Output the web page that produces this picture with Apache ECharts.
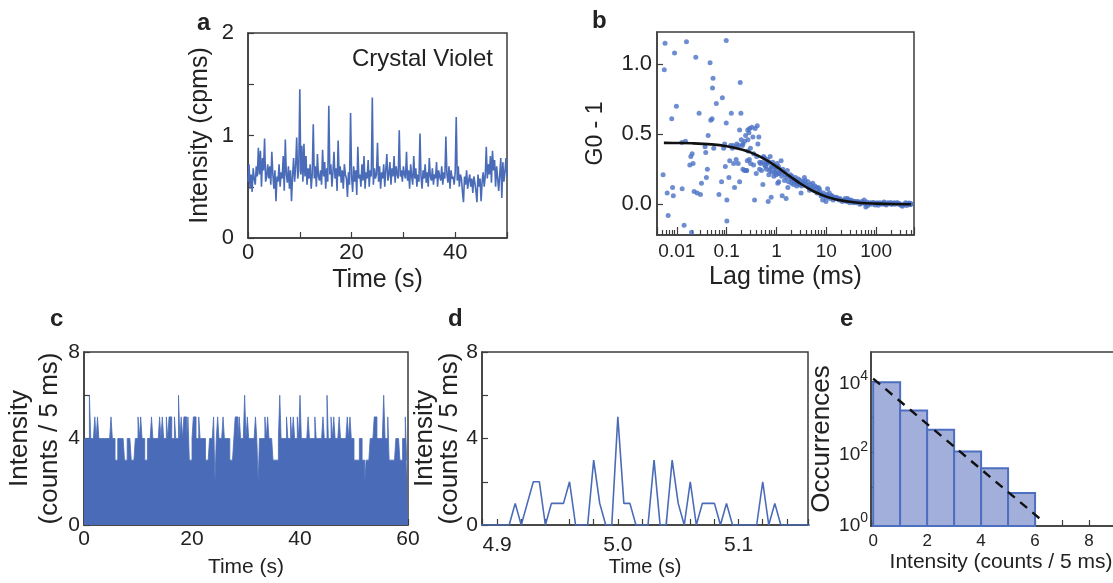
<!DOCTYPE html>
<html><head><meta charset="utf-8">
<script src="https://cdn.jsdelivr.net/npm/echarts@6/dist/echarts.min.js"></script>
<style>html,body{margin:0;padding:0;background:#fff}#c{width:1113px;height:583px}</style>
</head><body><div id="c"></div>
<script>
// ---------- Panel a: intensity trace (0.2 s samples) ----------
const A_DT = 0.2;
const A_INTENSITY = [
0.55,0.72,0.48,0.62,0.45,0.68,0.58,0.52,0.70,0.60,
0.88,0.62,0.85,0.50,0.78,0.66,0.97,0.55,0.60,0.72,
0.58,0.70,0.52,0.84,0.62,0.48,0.66,0.36,0.60,0.55,
0.72,0.50,0.64,0.58,0.80,0.46,0.96,0.62,0.54,0.70,
0.48,0.66,0.36,0.60,0.78,0.55,0.70,0.98,0.58,0.66,
1.45,0.62,0.90,0.55,0.92,0.60,0.80,0.52,0.68,0.58,
0.72,0.48,0.62,1.11,0.58,0.70,0.50,0.82,0.60,0.56,
0.66,0.52,0.86,0.60,0.74,0.48,0.68,0.55,1.29,0.62,
0.72,0.50,0.64,0.84,0.58,0.68,0.46,0.95,0.60,0.70,
0.54,0.66,0.48,0.72,0.62,0.58,0.40,0.64,0.52,1.22,
0.60,0.45,0.70,0.55,0.66,0.42,0.89,0.58,0.62,0.50,
0.72,0.56,0.80,0.48,0.64,0.58,0.76,0.50,0.66,0.60,
1.37,0.52,0.68,0.58,0.62,0.93,0.55,0.70,0.48,0.64,
0.58,0.72,0.50,0.66,0.82,0.56,0.62,0.74,0.52,0.68,
0.60,0.80,0.54,0.70,0.62,0.58,1.05,0.60,0.66,0.55,
0.70,0.62,0.58,0.84,0.56,0.66,0.48,0.72,0.60,0.52,
0.80,0.58,0.68,0.50,0.62,0.55,1.02,0.60,0.48,0.66,
0.58,0.72,0.54,0.64,0.50,0.78,0.60,0.56,0.68,0.52,
0.62,0.58,0.74,0.50,0.66,0.60,0.56,0.70,0.52,0.64,
0.58,0.99,0.62,0.54,0.70,0.48,0.66,0.58,0.60,0.52,
0.64,1.18,0.56,0.70,0.50,0.62,0.58,0.45,0.35,0.60,
0.52,0.66,0.48,0.56,0.62,0.50,0.58,0.44,0.60,0.54,
0.46,0.35,0.62,0.50,0.58,0.36,0.55,0.64,0.50,0.60,
0.89,0.58,0.72,0.62,0.80,0.54,0.85,0.66,0.76,0.50,
0.70,0.58,0.46,0.62,0.78,0.39,0.74,0.55,0.64,0.78,
0.60];

// ---------- Panel b: autocorrelation points [lag ms, G0-1] ----------
const B_POINTS = [
[0.0056,0.96],[0.0058,1.15],[0.0053,0.21],[0.0064,0.08],[0.0067,-0.08],[0.0079,0.61],[0.0082,0.12],[0.0085,0.06],[0.009,1.08],[0.0098,0.70],
[0.0126,0.44],[0.0128,0.11],[0.014,-0.15],[0.0149,0.45],[0.0156,1.16],[0.0182,0.28],[0.0191,0.34],[0.0203,0.36],[0.0212,0.29],[0.0197,-0.2],
[0.0222,0.09],[0.024,1.05],[0.0256,0.08],[0.028,0.65],[0.0298,0.07],[0.0312,0.15],[0.0369,0.41],[0.038,0.37],[0.0392,0.19],[0.041,0.25],
[0.0425,0.49],[0.0465,1.01],[0.048,0.60],[0.051,0.61],[0.0533,0.90],[0.052,0.83],[0.055,0.40],[0.062,0.72],[0.070,0.07],[0.079,0.16],
[0.082,0.76],[0.087,0.40],[0.091,0.43],[0.094,0.27],[0.101,0.03],[0.098,1.17],[0.101,-0.12],[0.098,0.58],[0.111,0.19],[0.115,0.31],
[0.124,0.65],[0.134,0.42],[0.144,0.12],[0.155,0.32],[0.170,0.29],[0.182,0.53],[0.187,0.87],[0.193,0.65],[0.182,0.16],[0.196,0.46],
[0.212,0.43],[0.228,0.24],[0.253,0.24],[0.265,0.53],[0.285,0.32],
[0.138,0.29],[0.156,0.41],[0.206,0.42],[0.212,0.25],[0.229,0.45],[0.24,0.49],[0.247,0.24],[0.259,0.31],[0.267,0.46],[0.28,0.51],
[0.288,0.54],[0.302,0.29],[0.321,0.55],[0.336,0.48],[0.347,0.28],[0.363,0.03],[0.374,0.54],[0.392,0.22],[0.411,0.56],[0.423,0.43],
[0.443,0.48],[0.457,0.25],[0.479,0.29],[0.501,0.24],[0.533,0.14],[0.55,0.34],[0.575,0.33],[0.603,0.27],[0.622,0.30],[0.651,0.32],
[0.681,0.02],[0.702,0.21],[0.724,0.24],[0.747,0.34],[0.782,0.05],[0.819,0.27],[0.845,0.30],[0.884,0.20],[0.912,0.23],[0.955,0.27],
[0.985,0.24],[1.03,0.29],[1.08,0.22],[1.11,0.16],
[0.12,0.42],[0.13,0.40],[0.16,0.43],[0.175,0.42],[0.30,0.40],[0.35,0.36],[0.40,0.34],[0.27,0.38],[0.46,0.30],
[0.52,0.30],[0.58,0.28],[0.63,0.25],[0.66,0.29],[0.72,0.30],[0.77,0.26],[0.80,0.23],[0.93,0.26],
[0.87,0.28],[0.985,0.21],[1.06,0.15],[1.24,0.31],[1.30,0.06],[1.34,0.25],[1.45,0.17],[1.56,0.04],[1.69,0.12],[1.82,0.20],
[1.97,0.18],[2.12,0.18],[2.29,0.17],[2.47,0.16],[2.67,0.15],[2.88,0.14],[3.11,0.08],[3.36,0.16],[3.63,0.19],[3.92,0.14],
[4.43,0.12],[4.94,0.11],[5.33,0.15],[6.21,0.12],[6.71,0.09],[7.24,0.11],[7.82,0.06],[8.45,0.03],[9.85,0.02],[10.6,0.11],
[11.5,0.08],[12.4,0.06],[14.5,0.05],[16.9,0.04],[19.7,0.03],[22.9,0.03],[26.7,0.04],[31.1,0.03],[36.3,0.02],[42.3,0.02],
[49.3,0.005],[57.5,0.03],[62.1,-0.02],[72.4,0.005],[91.2,0.01],[115,0.005],[145,0.015],[182,0.005],[229,0.01],[288,0.0],
[336,-0.014],[423,0.005],[494,0.005],
[1.1,0.27],[1.15,0.22],[1.2,0.24],[1.28,0.20],[1.38,0.23],[1.5,0.21],[1.6,0.19],[1.65,0.24],[1.75,0.16],[1.9,0.21],
[2.0,0.15],[2.05,0.20],[2.2,0.14],[2.4,0.19],[2.55,0.13],[2.75,0.18],[3.0,0.17],[3.2,0.13],
[3.5,0.15],[3.8,0.17],[4.1,0.13],[4.3,0.16],[4.6,0.10],[4.8,0.14],[5.1,0.12],[5.6,0.10],[5.9,0.13],[6.5,0.08],
[6.9,0.12],[7.5,0.09],[8.0,0.07],[8.8,0.08],[9.3,0.06],[10.0,0.05],
[10.3,0.07],[11,0.05],[12,0.04],[13,0.06],[13.7,0.03],[15.2,0.04],[16,0.05],[18,0.03],[18.8,0.04],[21,0.02],
[24,0.04],[25.5,0.02],[28,0.03],[29.5,0.01],[33,0.025],[35,0.01],[38,0.02],[40,0.01],[45,0.015],[47,0.0],
[52,0.02],[55,0.01],[60,0.005],[65,0.015],[68,-0.01],[75,0.01],[80,0.0],[85,0.012],[95,-0.005],[100,0.005],
[105,0.01],[110,-0.008],[120,0.01],[130,0.0],[138,0.008],[152,0.0],[160,-0.005],[170,0.01],[195,0.012],[205,-0.003],
[215,0.005],[240,0.0],[255,0.008],[270,0.01],[300,0.004],[315,-0.008],[350,-0.005],[370,0.002],[390,0.01],[410,-0.01],
[440,0.0],[460,0.008],[480,-0.004],[500,0.0]
];
const B_FIT_LAG = [0.0055,0.01,0.02,0.05,0.1,0.2,0.3,0.5,0.7,1,1.5,2,3,5,7,10,15,20,30,50,100,200,500];
const B_FIT_G   = [0.438,0.437,0.435,0.427,0.414,0.391,0.370,0.335,0.305,0.268,0.223,0.191,0.148,0.101,0.076,0.054,0.036,0.027,0.017,0.009,0.004,0.001,0.0];

// ---------- Panel c: counts per bin (max over 0.25 s bins) ----------
const C_BIN = 0.25;
const C_COUNTS = [
4,4,4,4,6,4,4,4,5,4, 5,4,4,4,4,4,4,4,4,4,
5,4,4,3,3,4,4,4,4,4, 3,3,4,4,4,3,3,3,4,4,
5,4,5,4,4,3,3,4,4,4, 5,4,4,4,4,4,5,4,5,4,
4,5,4,5,5,4,4,5,4,4, 6,4,5,4,5,5,4,5,3,3,
4,5,5,4,4,5,4,4,4,4, 3,3,3,4,4,4,5,2,4,5,
4,4,4,5,4,4,4,4,3,3, 3,4,5,5,4,5,4,4,4,6,
4,5,4,4,4,4,4,5,4,2, 4,4,4,4,5,4,5,4,4,4,
3,3,3,3,4,6,4,4,4,4, 5,4,4,5,4,5,4,4,5,4,
6,4,4,4,4,4,5,4,4,4, 4,5,4,4,4,4,4,5,4,4,
6,4,4,5,4,5,4,4,4,5, 4,4,4,4,4,5,4,5,4,4,
3,3,3,3,4,4,3,3,2,3, 3,3,4,4,4,5,5,4,4,4,
4,4,6,4,4,5,3,3,3,3, 3,4,4,4,3,3,4,4,5,3];

// ---------- Panel d: zoomed counts (5 ms steps from 4.885 s) ----------
const D_T0 = 4.885;
const D_DT = 0.005;
const D_COUNTS = [0,0,0,0,0,0,1,0,1,2,2,0,1,1,1,2,0,0,0,3,1,0,0,5,1,1,0,0,0,3,0,0,3,1,0,2,0,1,1,1,0,1,0,0,0,0,0,2,0,1,0,0,0,0,0,0];

// ---------- Panel e: histogram ----------
const E_BIN_LEFT = [0,1,2,3,4,5];
const E_BIN_WIDTH = 1;
const E_OCCURRENCES = [9500,1500,430,105,35,7];
const E_FIT_X = [0, 6.3];
const E_FIT_Y = [12000, 1.1];

// ---------- build ----------
const FONT = '"Liberation Sans", Arial, Helvetica, sans-serif';
const TXT = '#222';
const AX = '#3c3c3c';
const BLUE = '#4A6CB8';

function ax(o) {
  const base = {
    nameLocation: 'middle',
    axisLine: {show: true, onZero: false, lineStyle: {color: AX, width: 1.5}},
    axisTick: {show: true, inside: true, length: o.tickLen || 6, lineStyle: {color: AX, width: 1.2}},
    minorTick: {show: false},
    splitLine: {show: false},
    minorSplitLine: {show: false}
  };
  const lab = Object.assign({color: TXT, fontFamily: FONT, fontSize: 21}, o.label || {});
  const nts = Object.assign({color: TXT, fontFamily: FONT, fontSize: 24}, o.nameStyle || {});
  const minor = o.minor, minorLen = o.minorLen || 6;
  delete o.label; delete o.nameStyle; delete o.minor; delete o.minorLen; delete o.tickLen;
  const r = Object.assign(base, o);
  r.axisLabel = lab; r.nameTextStyle = nts;
  if (minor) { r.minorTick = {show: true, splitNumber: minor, length: minorLen, lineStyle: {color: AX, width: 1.2}}; }
  return r;
}

const gridBase = {show: true, borderColor: AX, borderWidth: 1.5, backgroundColor: 'transparent', containLabel: false, outerBoundsMode: 'none'};
const grids = [
  Object.assign({left: 248, top: 33, width: 259, height: 205}, gridBase),
  Object.assign({left: 657, top: 32, width: 257, height: 203}, gridBase),
  Object.assign({left: 84, top: 352, width: 324, height: 173}, gridBase),
  Object.assign({left: 482, top: 352, width: 326, height: 173}, gridBase),
  Object.assign({left: 871, top: 352, width: 272, height: 174}, gridBase)
];

const fmtNum = v => String(parseFloat(Number(v).toPrecision(6)));

const xAxes = [
  ax({gridIndex: 0, type: 'value', min: 0, max: 50, interval: 20, minor: 2, name: 'Time (s)', nameGap: 30,
      nameStyle: {fontSize: 25}, label: {fontSize: 22, margin: 4, showMaxLabel: false}}),
  ax({gridIndex: 1, type: 'log', logBase: 10, min: 0.004, max: 575, splitNumber: 5, minor: 9, tickLen: 8, minorLen: 5, name: 'Lag time (ms)', nameGap: 30,
      nameStyle: {fontSize: 25}, label: {fontSize: 19, margin: 7, showMinLabel: false, showMaxLabel: false, formatter: fmtNum}}),
  ax({gridIndex: 2, type: 'value', min: 0, max: 60, interval: 20, minor: 4, name: 'Time (s)', nameGap: 32,
      nameStyle: {fontSize: 21}, label: {fontSize: 21, margin: 4}}),
  ax({gridIndex: 3, type: 'value', min: 4.8875, max: 5.1575, splitNumber: 3, minor: 5, name: 'Time (s)', nameGap: 32,
      nameStyle: {fontSize: 20}, label: {fontSize: 21, margin: 10, showMinLabel: false, showMaxLabel: false, formatter: v => Number(v).toFixed(1)}}),
  ax({gridIndex: 4, type: 'value', min: -0.08, max: 10, splitNumber: 5, minor: 2, name: 'Intensity (counts / 5 ms)', nameGap: 26,
      nameStyle: {fontSize: 21, padding: [0, 12, 0, 0]}, label: {fontSize: 17, margin: 7, showMinLabel: false}})
];

const yAxes = [
  ax({gridIndex: 0, type: 'value', min: 0, max: 2, interval: 1, minor: 2, name: 'Intensity (cpms)', nameGap: 35,
      nameStyle: {fontSize: 25}, label: {fontSize: 22, margin: 14}}),
  ax({gridIndex: 1, type: 'value', min: -0.22, max: 1.23, splitNumber: 3, name: 'G0 - 1', nameGap: 50,
      nameStyle: {fontSize: 23}, label: {fontSize: 22, margin: 5, showMinLabel: false, showMaxLabel: false, formatter: v => Number(v).toFixed(1)}}),
  ax({gridIndex: 2, type: 'value', min: 0, max: 8, interval: 4, minor: 2, name: 'Intensity\n(counts / 5 ms)', nameGap: 12,
      nameStyle: {fontSize: 26, lineHeight: 30}, label: {fontSize: 21, margin: 4}}),
  ax({gridIndex: 3, type: 'value', min: 0, max: 8, interval: 4, minor: 2, name: 'Intensity\n(counts / 5 ms)', nameGap: 19,
      nameStyle: {fontSize: 26, lineHeight: 25}, label: {fontSize: 21, margin: 4}}),
  ax({gridIndex: 4, type: 'log', logBase: 10, min: 0.82, max: 68000, splitNumber: 5, name: 'Occurrences', nameGap: 33,
      nameStyle: {fontSize: 26},
      label: {margin: 3, showMinLabel: false, showMaxLabel: false,
        formatter: function (v) {
          const l = Math.log10(v), e = Math.round(l);
          if (Math.abs(l - e) > 1e-6 || e % 2 !== 0) return '';
          return '{b|10}{s|' + e + '}';
        },
        rich: {
          b: {fontSize: 19, fontFamily: FONT, color: TXT, lineHeight: 24, verticalAlign: 'bottom'},
          s: {fontSize: 14, fontFamily: FONT, color: TXT, lineHeight: 24, verticalAlign: 'top', padding: [0, 0, 9, 0]}
        }}})
];

const aData = A_INTENSITY.map((v, i) => [i * A_DT, v]);
const cData = C_COUNTS.map((v, i) => [i * C_BIN, v]);
cData.push([C_COUNTS.length * C_BIN, C_COUNTS[C_COUNTS.length - 1]]);
const dData = D_COUNTS.map((v, i) => [D_T0 + i * D_DT, v]);
const bFit = B_FIT_LAG.map((t, i) => [t, B_FIT_G[i]]);
const eData = E_BIN_LEFT.map((x, i) => [x, E_OCCURRENCES[i]]);
const eFit = E_FIT_X.map((x, i) => [x, E_FIT_Y[i]]);

const titleStyle = {fontFamily: FONT, fontSize: 24, fontWeight: 'bold', color: TXT};
const option = {
  animation: false,
  backgroundColor: '#fff',
  title: [
    {text: 'a', left: 192, top: 6, textStyle: titleStyle},
    {text: 'b', left: 587, top: 4, textStyle: titleStyle},
    {text: 'c', left: 45, top: 302, textStyle: titleStyle},
    {text: 'd', left: 443, top: 302, textStyle: titleStyle},
    {text: 'e', left: 835, top: 302, textStyle: titleStyle},
    {text: 'Crystal Violet', left: 347, top: 42, textStyle: {fontFamily: FONT, fontSize: 24, fontWeight: 'normal', color: TXT}}
  ],
  grid: grids,
  xAxis: xAxes,
  yAxis: yAxes,
  series: [
    {type: 'line', xAxisIndex: 0, yAxisIndex: 0, data: aData, symbol: 'none', lineStyle: {color: BLUE, width: 1.6}},
    {type: 'scatter', xAxisIndex: 1, yAxisIndex: 1, data: B_POINTS, symbolSize: 5, itemStyle: {color: '#4B72C6'}},
    {type: 'line', xAxisIndex: 1, yAxisIndex: 1, data: bFit, smooth: 0.4, symbol: 'none', lineStyle: {color: '#111', width: 2.6}, z: 5},
    {type: 'line', xAxisIndex: 2, yAxisIndex: 2, data: cData, step: 'end', symbol: 'none',
      lineStyle: {color: BLUE, width: 0.8}, areaStyle: {color: BLUE, opacity: 1}},
    {type: 'line', xAxisIndex: 3, yAxisIndex: 3, data: dData, symbol: 'none', lineStyle: {color: BLUE, width: 1.6}},
    {type: 'custom', xAxisIndex: 4, yAxisIndex: 4, data: eData, encode: {x: 0, y: 1},
      renderItem: function (params, api) {
        const x0 = api.value(0), v = api.value(1);
        const p0 = api.coord([x0, v]);
        const p1 = api.coord([x0 + E_BIN_WIDTH, v]);
        const bottom = params.coordSys.y + params.coordSys.height;
        return {type: 'rect', shape: {x: p0[0], y: p0[1], width: p1[0] - p0[0], height: bottom - p0[1]},
          style: {fill: '#A2AFDA', stroke: '#4E6FC0', lineWidth: 2}};
      }},
    {type: 'line', xAxisIndex: 4, yAxisIndex: 4, data: eFit, symbol: 'none', z: 5,
      lineStyle: {color: '#111', width: 2.4, type: [9, 7]}}
  ]
};
const chart = echarts.init(document.getElementById('c'), null, {renderer: 'canvas', width: 1113, height: 583});
chart.setOption(option);
</script></body></html>
